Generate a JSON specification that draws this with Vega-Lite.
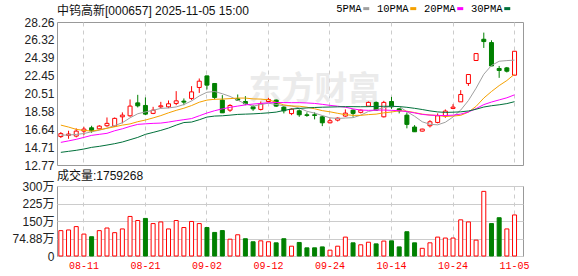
{
  "$schema": "https://vega.github.io/schema/vega-lite/v6.json",
  "background": "white",
  "padding": {"left": 11, "top": 3, "right": 5, "bottom": 0},
  "spacing": 21,
  "bounds": "flush",
  "config": {
    "view": {"stroke": "#999999", "strokeWidth": 1},
    "axis": {"labelFont": "Liberation Sans, Noto Sans CJK SC", "labelFontSize": 12, "labelColor": "#222222", "ticks": false, "domain": false, "title": null, "gridColor": "#cccccc", "gridWidth": 1, "labelOverlap": false},
    "title": {"font": "Liberation Sans, Noto Sans CJK SC", "fontSize": 12, "fontWeight": "normal", "color": "#111111", "anchor": "start", "frame": "group"}
  },
  "datasets": {
    "k": [
      {"d": "08-06", "o": 15.85, "h": 16.34, "l": 15.69, "c": 16.17, "v": 108.7, "vd": "up", "5PMA": 16.00, "10PMA": 17.09, "20PMA": 15.22, "30PMA": 14.14},
      {"d": "08-07", "o": 15.98, "h": 16.48, "l": 15.61, "c": 16.12, "v": 111.6, "vd": "up", "5PMA": 16.02, "10PMA": 16.88, "20PMA": 15.38, "30PMA": 14.25},
      {"d": "08-08", "o": 15.90, "h": 16.74, "l": 15.76, "c": 16.44, "v": 126.0, "vd": "up", "5PMA": 16.08, "10PMA": 16.63, "20PMA": 15.55, "30PMA": 14.36},
      {"d": "08-11", "o": 16.44, "h": 16.91, "l": 16.01, "c": 16.66, "v": 94.0, "vd": "up", "5PMA": 16.18, "10PMA": 16.52, "20PMA": 15.76, "30PMA": 14.50},
      {"d": "08-12", "o": 16.80, "h": 17.02, "l": 16.26, "c": 16.48, "v": 82.6, "vd": "down", "5PMA": 16.37, "10PMA": 16.44, "20PMA": 15.98, "30PMA": 14.68},
      {"d": "08-13", "o": 16.69, "h": 17.09, "l": 16.63, "c": 16.98, "v": 108.7, "vd": "up", "5PMA": 16.54, "10PMA": 16.58, "20PMA": 16.09, "30PMA": 14.79},
      {"d": "08-14", "o": 17.02, "h": 17.92, "l": 16.91, "c": 17.28, "v": 120.0, "vd": "up", "5PMA": 16.77, "10PMA": 16.74, "20PMA": 16.20, "30PMA": 14.93},
      {"d": "08-15", "o": 16.98, "h": 17.92, "l": 16.91, "c": 17.82, "v": 100.0, "vd": "up", "5PMA": 17.04, "10PMA": 16.91, "20PMA": 16.48, "30PMA": 15.08},
      {"d": "08-18", "o": 17.99, "h": 18.47, "l": 17.28, "c": 18.17, "v": 116.0, "vd": "up", "5PMA": 17.35, "10PMA": 17.09, "20PMA": 16.69, "30PMA": 15.26},
      {"d": "08-19", "o": 18.10, "h": 19.87, "l": 17.99, "c": 19.15, "v": 169.5, "vd": "up", "5PMA": 17.88, "10PMA": 17.22, "20PMA": 16.95, "30PMA": 15.51},
      {"d": "08-20", "o": 19.50, "h": 20.37, "l": 19.01, "c": 19.18, "v": 152.0, "vd": "up", "5PMA": 18.32, "10PMA": 17.46, "20PMA": 17.17, "30PMA": 15.76},
      {"d": "08-21", "o": 19.22, "h": 20.09, "l": 18.17, "c": 18.28, "v": 161.0, "vd": "down", "5PMA": 18.52, "10PMA": 17.64, "20PMA": 17.23, "30PMA": 16.09},
      {"d": "08-22", "o": 18.36, "h": 19.07, "l": 18.28, "c": 18.71, "v": 139.0, "vd": "up", "5PMA": 18.70, "10PMA": 17.87, "20PMA": 17.28, "30PMA": 16.30},
      {"d": "08-25", "o": 19.07, "h": 19.61, "l": 18.90, "c": 19.18, "v": 146.0, "vd": "up", "5PMA": 18.90, "10PMA": 18.12, "20PMA": 17.31, "30PMA": 16.52},
      {"d": "08-26", "o": 19.07, "h": 19.76, "l": 18.93, "c": 19.40, "v": 116.0, "vd": "up", "5PMA": 18.95, "10PMA": 18.42, "20PMA": 17.42, "30PMA": 16.77},
      {"d": "08-27", "o": 19.44, "h": 20.77, "l": 19.25, "c": 19.72, "v": 152.0, "vd": "up", "5PMA": 19.06, "10PMA": 18.69, "20PMA": 17.56, "30PMA": 17.09},
      {"d": "08-28", "o": 19.69, "h": 19.98, "l": 19.25, "c": 19.58, "v": 122.0, "vd": "up", "5PMA": 19.32, "10PMA": 18.92, "20PMA": 17.68, "30PMA": 17.37},
      {"d": "08-29", "o": 19.98, "h": 21.31, "l": 19.80, "c": 20.69, "v": 148.0, "vd": "up", "5PMA": 19.71, "10PMA": 19.21, "20PMA": 17.80, "30PMA": 17.42},
      {"d": "09-01", "o": 21.17, "h": 22.14, "l": 20.58, "c": 21.85, "v": 139.0, "vd": "up", "5PMA": 20.25, "10PMA": 19.57, "20PMA": 18.10, "30PMA": 17.67},
      {"d": "09-02", "o": 22.42, "h": 22.45, "l": 20.95, "c": 21.42, "v": 122.0, "vd": "down", "5PMA": 20.65, "10PMA": 19.80, "20PMA": 18.40, "30PMA": 17.96},
      {"d": "09-03", "o": 21.60, "h": 21.62, "l": 19.87, "c": 20.09, "v": 101.0, "vd": "down", "5PMA": 20.73, "10PMA": 19.89, "20PMA": 18.65, "30PMA": 18.07},
      {"d": "09-04", "o": 19.80, "h": 20.34, "l": 18.40, "c": 18.42, "v": 109.0, "vd": "down", "5PMA": 20.49, "10PMA": 19.91, "20PMA": 18.85, "30PMA": 18.10},
      {"d": "09-05", "o": 18.71, "h": 19.36, "l": 18.53, "c": 19.22, "v": 72.0, "vd": "up", "5PMA": 20.20, "10PMA": 19.96, "20PMA": 19.02, "30PMA": 18.17},
      {"d": "09-08", "o": 19.94, "h": 20.41, "l": 19.72, "c": 19.80, "v": 91.0, "vd": "up", "5PMA": 19.79, "10PMA": 20.02, "20PMA": 19.15, "30PMA": 18.25},
      {"d": "09-09", "o": 19.65, "h": 20.23, "l": 19.25, "c": 19.40, "v": 74.0, "vd": "down", "5PMA": 19.39, "10PMA": 20.02, "20PMA": 19.28, "30PMA": 18.28},
      {"d": "09-10", "o": 19.07, "h": 19.25, "l": 18.64, "c": 18.85, "v": 61.0, "vd": "down", "5PMA": 19.14, "10PMA": 19.93, "20PMA": 19.37, "30PMA": 18.31},
      {"d": "09-11", "o": 18.79, "h": 19.65, "l": 18.68, "c": 19.40, "v": 65.0, "vd": "up", "5PMA": 19.33, "10PMA": 19.91, "20PMA": 19.44, "30PMA": 18.36},
      {"d": "09-12", "o": 19.65, "h": 20.04, "l": 19.58, "c": 19.87, "v": 61.0, "vd": "up", "5PMA": 19.46, "10PMA": 19.83, "20PMA": 19.51, "30PMA": 18.42},
      {"d": "09-15", "o": 19.80, "h": 19.87, "l": 19.07, "c": 19.15, "v": 56.5, "vd": "down", "5PMA": 19.33, "10PMA": 19.56, "20PMA": 19.54, "30PMA": 18.50},
      {"d": "09-16", "o": 19.04, "h": 19.15, "l": 18.36, "c": 18.64, "v": 74.0, "vd": "down", "5PMA": 19.18, "10PMA": 19.28, "20PMA": 19.53, "30PMA": 18.68},
      {"d": "09-17", "o": 18.34, "h": 18.90, "l": 18.17, "c": 18.82, "v": 42.0, "vd": "up", "5PMA": 19.18, "10PMA": 19.16, "20PMA": 19.52, "30PMA": 18.83},
      {"d": "09-18", "o": 18.64, "h": 18.79, "l": 17.99, "c": 18.21, "v": 58.0, "vd": "down", "5PMA": 18.94, "10PMA": 19.14, "20PMA": 19.52, "30PMA": 18.90},
      {"d": "09-19", "o": 18.21, "h": 18.47, "l": 17.99, "c": 18.14, "v": 35.0, "vd": "down", "5PMA": 18.59, "10PMA": 19.03, "20PMA": 19.49, "30PMA": 18.95},
      {"d": "09-22", "o": 18.21, "h": 18.47, "l": 17.71, "c": 18.14, "v": 35.0, "vd": "down", "5PMA": 18.39, "10PMA": 18.86, "20PMA": 19.44, "30PMA": 19.00},
      {"d": "09-23", "o": 17.99, "h": 18.10, "l": 16.98, "c": 17.34, "v": 39.0, "vd": "down", "5PMA": 18.13, "10PMA": 18.66, "20PMA": 19.34, "30PMA": 19.03},
      {"d": "09-24", "o": 17.34, "h": 17.82, "l": 17.28, "c": 17.56, "v": 25.0, "vd": "up", "5PMA": 17.88, "10PMA": 18.53, "20PMA": 19.23, "30PMA": 19.05},
      {"d": "09-25", "o": 17.63, "h": 17.92, "l": 17.49, "c": 17.85, "v": 42.0, "vd": "up", "5PMA": 17.81, "10PMA": 18.37, "20PMA": 19.14, "30PMA": 19.07},
      {"d": "09-26", "o": 18.07, "h": 18.79, "l": 17.99, "c": 18.39, "v": 81.0, "vd": "up", "5PMA": 17.86, "10PMA": 18.22, "20PMA": 19.03, "30PMA": 19.09},
      {"d": "09-29", "o": 18.71, "h": 18.79, "l": 17.99, "c": 18.36, "v": 56.5, "vd": "down", "5PMA": 17.90, "10PMA": 18.15, "20PMA": 18.85, "30PMA": 19.09},
      {"d": "09-30", "o": 18.47, "h": 18.79, "l": 18.36, "c": 18.71, "v": 48.0, "vd": "up", "5PMA": 18.17, "10PMA": 18.15, "20PMA": 18.72, "30PMA": 19.08},
      {"d": "10-09", "o": 19.15, "h": 19.65, "l": 19.07, "c": 19.55, "v": 59.0, "vd": "up", "5PMA": 18.57, "10PMA": 18.23, "20PMA": 18.69, "30PMA": 19.09},
      {"d": "10-10", "o": 19.55, "h": 19.65, "l": 18.64, "c": 18.71, "v": 52.0, "vd": "down", "5PMA": 18.74, "10PMA": 18.28, "20PMA": 18.71, "30PMA": 19.11},
      {"d": "10-13", "o": 17.99, "h": 19.72, "l": 17.92, "c": 19.55, "v": 64.0, "vd": "up", "5PMA": 18.98, "10PMA": 18.42, "20PMA": 18.72, "30PMA": 19.13},
      {"d": "10-14", "o": 19.65, "h": 20.15, "l": 18.85, "c": 19.07, "v": 65.0, "vd": "down", "5PMA": 19.12, "10PMA": 18.51, "20PMA": 18.69, "30PMA": 19.13},
      {"d": "10-15", "o": 18.85, "h": 18.93, "l": 18.36, "c": 18.64, "v": 39.0, "vd": "down", "5PMA": 19.10, "10PMA": 18.64, "20PMA": 18.65, "30PMA": 19.10},
      {"d": "10-16", "o": 18.17, "h": 18.47, "l": 16.74, "c": 17.17, "v": 104.0, "vd": "down", "5PMA": 18.55, "10PMA": 18.60, "20PMA": 18.56, "30PMA": 19.02},
      {"d": "10-17", "o": 16.88, "h": 17.09, "l": 16.35, "c": 16.37, "v": 56.5, "vd": "down", "5PMA": 18.05, "10PMA": 18.45, "20PMA": 18.41, "30PMA": 18.91},
      {"d": "10-20", "o": 16.44, "h": 16.70, "l": 16.40, "c": 16.66, "v": 33.0, "vd": "up", "5PMA": 17.45, "10PMA": 18.28, "20PMA": 18.25, "30PMA": 18.78},
      {"d": "10-21", "o": 17.02, "h": 17.63, "l": 16.84, "c": 17.45, "v": 56.5, "vd": "up", "5PMA": 17.18, "10PMA": 18.19, "20PMA": 18.17, "30PMA": 18.63},
      {"d": "10-22", "o": 17.38, "h": 18.36, "l": 17.28, "c": 18.10, "v": 81.0, "vd": "up", "5PMA": 17.12, "10PMA": 18.13, "20PMA": 18.14, "30PMA": 18.52},
      {"d": "10-23", "o": 18.07, "h": 18.79, "l": 17.88, "c": 18.61, "v": 77.0, "vd": "up", "5PMA": 17.40, "10PMA": 18.03, "20PMA": 18.13, "30PMA": 18.47},
      {"d": "10-24", "o": 18.90, "h": 19.36, "l": 18.82, "c": 19.04, "v": 77.0, "vd": "up", "5PMA": 17.97, "10PMA": 18.07, "20PMA": 18.17, "30PMA": 18.49},
      {"d": "10-27", "o": 19.61, "h": 20.88, "l": 19.61, "c": 20.41, "v": 155.0, "vd": "up", "5PMA": 18.72, "10PMA": 18.15, "20PMA": 18.28, "30PMA": 18.53},
      {"d": "10-28", "o": 21.60, "h": 22.57, "l": 21.34, "c": 22.57, "v": 146.0, "vd": "up", "5PMA": 19.75, "10PMA": 18.50, "20PMA": 18.51, "30PMA": 18.62},
      {"d": "10-29", "o": 24.09, "h": 24.84, "l": 24.09, "c": 24.84, "v": 68.0, "vd": "up", "5PMA": 21.09, "10PMA": 19.12, "20PMA": 18.88, "30PMA": 18.81},
      {"d": "10-30", "o": 26.39, "h": 27.11, "l": 25.45, "c": 26.14, "v": 277.0, "vd": "up", "5PMA": 22.60, "10PMA": 20.02, "20PMA": 19.31, "30PMA": 19.05},
      {"d": "10-31", "o": 26.03, "h": 26.28, "l": 23.48, "c": 23.50, "v": 139.0, "vd": "down", "5PMA": 23.55, "10PMA": 20.73, "20PMA": 19.59, "30PMA": 19.19},
      {"d": "11-03", "o": 23.22, "h": 23.50, "l": 22.21, "c": 23.01, "v": 164.0, "vd": "down", "5PMA": 24.01, "10PMA": 21.37, "20PMA": 19.82, "30PMA": 19.29},
      {"d": "11-04", "o": 23.29, "h": 23.39, "l": 22.79, "c": 22.93, "v": 116.0, "vd": "up", "5PMA": 24.08, "10PMA": 21.92, "20PMA": 20.05, "30PMA": 19.42},
      {"d": "11-05", "o": 22.50, "h": 25.09, "l": 22.50, "c": 25.09, "v": 175.9268, "vd": "up", "5PMA": 24.13, "10PMA": 22.61, "20PMA": 20.37, "30PMA": 19.63}
    ],
    "wm": [{"t": "东方财富"}]
  },
  "vconcat": [
    {
      "width": 466,
      "height": 143,
      "title": {"text": "中钨高新[000657] 2025-11-05 15:00", "offset": -2},
      "encoding": {
        "x": {
          "field": "d", "type": "ordinal",
          "scale": {"paddingInner": 0, "paddingOuter": 0.3, "align": 0},
          "axis": {"values": ["08-11", "08-21", "09-02", "09-12", "09-24", "10-14", "10-24", "11-05"], "labels": false, "grid": true, "gridDash": [4, 4], "bandPosition": 0.5}
        }
      },
      "layer": [
        {
          "data": {"name": "wm"},
          "mark": {"type": "text", "font": "Noto Sans CJK SC", "fontSize": 33, "fontWeight": "bold", "color": "#ebebeb", "align": "center", "baseline": "middle"},
          "encoding": {
            "x": {"datum": "09-22", "type": "ordinal"},
            "y": {"datum": 20.88, "type": "quantitative", "axis": {"values": [12.77, 14.71, 16.64, 18.58, 20.51, 22.45, 24.39, 26.32, 28.26], "format": ".2f", "labelPadding": 3, "labelOverlap": false, "labelFlush": false, "tickCount": 9}},
            "text": {"field": "t"}
          }
        },
        {
          "data": {"name": "k"},
          "mark": {"type": "rule", "strokeWidth": 1},
          "encoding": {
            "y": {
              "field": "l", "type": "quantitative",
              "scale": {"domain": [12.77, 28.26], "nice": false, "zero": false},
              "axis": {"values": [12.77, 14.71, 16.64, 18.58, 20.51, 22.45, 24.39, 26.32, 28.26], "format": ".2f", "labelPadding": 3, "labelOverlap": false, "labelFlush": false, "tickCount": 9}
            },
            "y2": {"field": "h"},
            "color": {"condition": {"test": "datum.c >= datum.o", "value": "#ff0000"}, "value": "#008000"}
          }
        },
        {
          "data": {"name": "k"},
          "mark": {"type": "bar", "size": 4, "strokeWidth": 1},
          "encoding": {
            "y": {"field": "o", "type": "quantitative"},
            "y2": {"field": "c"},
            "fill": {"condition": {"test": "datum.c >= datum.o", "value": "#ffffff"}, "value": "#008000"},
            "stroke": {"condition": {"test": "datum.c >= datum.o", "value": "#ff0000"}, "value": "#008000"}
          }
        },
        {
          "data": {"name": "k"},
          "transform": [{"fold": ["5PMA", "10PMA", "20PMA", "30PMA"], "as": ["ma", "val"]}],
          "mark": {"type": "line", "strokeWidth": 1},
          "encoding": {
            "y": {"field": "val", "type": "quantitative"},
            "color": {
              "field": "ma", "type": "nominal",
              "scale": {"domain": ["5PMA", "10PMA", "20PMA", "30PMA"], "range": ["#a0a0a0", "#f5a100", "#ff00ff", "#00703a"]},
              "legend": {"orient": "none", "legendX": 304, "legendY": -19, "direction": "horizontal", "title": null, "symbolType": "stroke", "symbolSize": 36, "symbolStrokeWidth": 3, "labelFont": "Liberation Mono", "labelFontSize": 10.5, "labelColor": "#000000", "labelAlign": "right", "labelOffset": -10, "columnPadding": 0, "padding": 0}
            }
          }
        }
      ]
    },
    {
      "width": 466,
      "height": 70,
      "title": {"text": "成交量:1759268", "offset": -3},
      "data": {"name": "k"},
      "mark": {"type": "bar", "size": 4, "strokeWidth": 1},
      "encoding": {
        "x": {
          "field": "d", "type": "ordinal",
          "scale": {"paddingInner": 0, "paddingOuter": 0.3, "align": 0},
          "axis": {"values": ["08-11", "08-21", "09-02", "09-12", "09-24", "10-14", "10-24", "11-05"], "labelColor": "#ff0000", "labelFont": "Liberation Mono", "labelFontSize": 10, "labelPadding": 4, "labelAngle": 0, "grid": true, "gridDash": [4, 4], "bandPosition": 0.5}
        },
        "y": {
          "field": "v", "type": "quantitative",
          "scale": {"domain": [0, 300], "nice": false},
          "axis": {"values": [0, 74.88, 150, 225, 300], "labelExpr": "datum.value === 0 ? '0' : datum.value + '万'", "labelPadding": 3}
        },
        "fill": {"condition": {"test": "datum.vd === 'up'", "value": "#ffffff"}, "value": "#008000"},
        "stroke": {"condition": {"test": "datum.vd === 'up'", "value": "#ff0000"}, "value": "#008000"}
      }
    }
  ]
}
